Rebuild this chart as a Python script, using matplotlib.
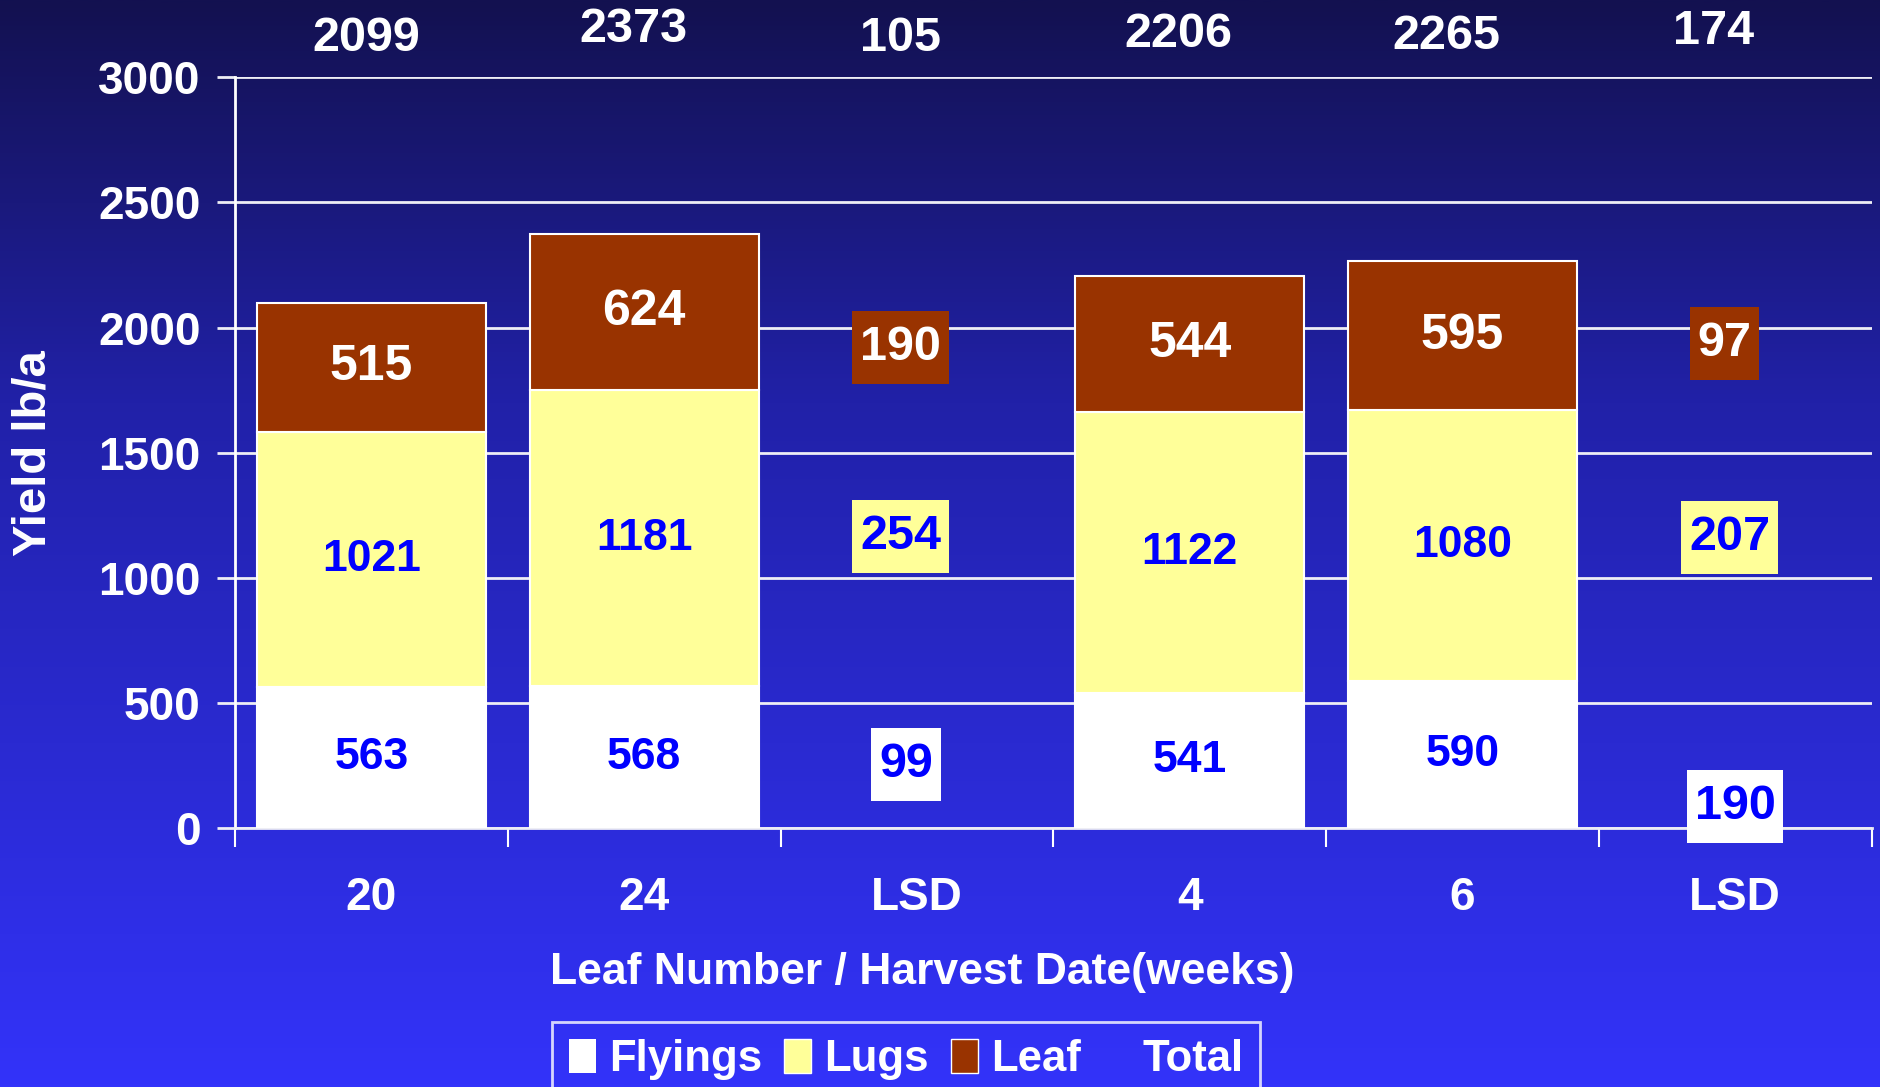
import numpy as np
import matplotlib
matplotlib.use("Agg")
import matplotlib.pyplot as plt
from matplotlib.patches import Patch
from matplotlib.path import Path
from matplotlib.colors import LinearSegmentedColormap

plt.rcParams['font.family'] = ['Liberation Sans', 'DejaVu Sans']
plt.rcParams['font.weight'] = 'bold'

# ---- data ----
categories = ['20', '24', 'LSD', '4', '6', 'LSD']
bar_idx = [0, 1, 3, 4]
flyings = [563, 568, 541, 590]
lugs = [1021, 1181, 1122, 1080]
leaf = [515, 624, 544, 595]
lsd_idx = [2, 5]
lsd_flyings = [99, 190]
lsd_lugs = [254, 207]
lsd_leaf = [190, 97]
totals = [2099, 2373, 105, 2206, 2265, 174]
yticks = [0, 500, 1000, 1500, 2000, 2500, 3000]

# ---- layout (label placement, not data) ----
lsd_label_y = {'flyings': [256, 86], 'lugs': [1167, 1160], 'leaf': [1919, 1936]}
lsd_label_dx = {'flyings': [-0.04, 0.0], 'lugs': [-0.06, -0.02], 'leaf': [-0.06, -0.04]}
total_y = [3153, 3191, 3153, 3172, 3162, 3181]
total_dx = [-0.02, -0.04, -0.06, -0.04, -0.06, -0.08]

WHITE = '#FFFFFF'
YELLOW = '#FFFF99'
BROWN = '#993300'
BLUE = '#0000FF'


def tallbox(x0, y0, width, height, mutation_size, padx=0.16, pady=0.29):
    px = padx * mutation_size
    py = pady * mutation_size
    xa, xb = x0 - px, x0 + width + px
    ya, yb = y0 - py, y0 + height + py
    return Path([(xa, ya), (xb, ya), (xb, yb), (xa, yb), (xa, ya)],
                [Path.MOVETO, Path.LINETO, Path.LINETO, Path.LINETO, Path.CLOSEPOLY])


fig = plt.figure(figsize=(18.81, 10.87), dpi=100)

# gradient background
bg = fig.add_axes([0, 0, 1, 1], zorder=-10)
cmap = LinearSegmentedColormap.from_list(
    'bg', [(0.0, (19/255, 17/255, 80/255)), (0.37, (33/255, 33/255, 168/255)),
           (1.0, (51/255, 51/255, 250/255))])
grad = np.linspace(0, 1, 512).reshape(-1, 1)
bg.imshow(grad, aspect='auto', cmap=cmap, extent=[0, 1, 1, 0])
bg.set_axis_off()

ax = fig.add_axes([0.125, 0.238, 0.870, 0.691])
ax.patch.set_alpha(0)
ax.set_ylim(0, 3000)
ax.set_xlim(-0.5, 5.5)

fs_blue = 32
fs_white = 36
fs_lsd = 35
width = 0.84
bottoms2 = [f for f in flyings]
bottoms3 = [f + l for f, l in zip(flyings, lugs)]
ax.bar(bar_idx, flyings, width=width, color=WHITE, edgecolor='white', linewidth=1.5, zorder=3)
ax.bar(bar_idx, lugs, width=width, bottom=bottoms2, color=YELLOW, edgecolor='white', linewidth=1.5, zorder=3)
ax.bar(bar_idx, leaf, width=width, bottom=bottoms3, color=BROWN, edgecolor='white', linewidth=1.5, zorder=3)

for i, x in enumerate(bar_idx):
    ax.text(x, flyings[i] / 2, str(flyings[i]), ha='center', va='center', color=BLUE, fontsize=fs_blue, fontweight='bold', zorder=5)
    ax.text(x, bottoms2[i] + lugs[i] / 2, str(lugs[i]), ha='center', va='center', color=BLUE, fontsize=fs_blue, fontweight='bold', zorder=5)
    ax.text(x, bottoms3[i] + leaf[i] / 2, str(leaf[i]), ha='center', va='center', color='white', fontsize=fs_white, fontweight='bold', zorder=5)

for j, x in enumerate(lsd_idx):
    ax.text(x + lsd_label_dx['flyings'][j], lsd_label_y['flyings'][j], str(lsd_flyings[j]), ha='center', va='center',
            color=BLUE, fontsize=fs_lsd, fontweight='bold', zorder=5, clip_on=False,
            bbox=dict(boxstyle=tallbox, fc=WHITE, ec='none'))
    ax.text(x + lsd_label_dx['lugs'][j], lsd_label_y['lugs'][j], str(lsd_lugs[j]), ha='center', va='center',
            color=BLUE, fontsize=fs_lsd, fontweight='bold', zorder=5, clip_on=False,
            bbox=dict(boxstyle=tallbox, fc=YELLOW, ec='none'))
    ax.text(x + lsd_label_dx['leaf'][j], lsd_label_y['leaf'][j], str(lsd_leaf[j]), ha='center', va='center',
            color='white', fontsize=fs_lsd, fontweight='bold', zorder=5, clip_on=False,
            bbox=dict(boxstyle=tallbox, fc=BROWN, ec='none'))

for k, t in enumerate(totals):
    ax.text(k + total_dx[k], total_y[k], str(t), ha='center', va='center', color='white',
            fontsize=35, fontweight='bold', clip_on=False)

# axes styling
ax.set_yticks(yticks)
ax.set_yticklabels([str(v) for v in yticks])
ax.yaxis.grid(True, color='#EEEEF5', linewidth=2, zorder=0)
ax.set_axisbelow(True)
ax.set_xticks(range(len(categories)))
ax.set_xticklabels(categories)
ax.set_xticks(np.arange(-0.5, 6.0, 1.0), minor=True)
ax.tick_params(axis='x', which='major', length=0, pad=34, labelsize=33, colors='white')
ax.tick_params(axis='x', which='minor', length=14, width=1.5, direction='out', color='white')
ax.tick_params(axis='y', length=13, width=2, color='#EEEEF5', labelsize=33, labelcolor='white', pad=12)
for lab in ax.get_xticklabels() + ax.get_yticklabels():
    lab.set_fontweight('bold')
for s in ['top', 'right']:
    ax.spines[s].set_visible(False)
ax.spines['left'].set_color('white')
ax.spines['left'].set_linewidth(2)
ax.spines['bottom'].set_color('#EEEEF5')
ax.spines['bottom'].set_linewidth(2)

ax.set_xlabel('Leaf Number / Harvest Date(weeks)', color='white', fontsize=32, fontweight='bold')
ax.xaxis.label.set_va('center')
ax.xaxis.set_label_coords(0.42, -0.192)
ax.set_ylabel('Yield lb/a', color='white', fontsize=34, fontweight='bold')
ax.yaxis.label.set_va('center')
ax.yaxis.set_label_coords(-0.123, 0.5)

handles = [Patch(facecolor=WHITE, edgecolor='none'),
           Patch(facecolor=YELLOW, edgecolor='white'),
           Patch(facecolor=BROWN, edgecolor='white'),
           Patch(facecolor='none', edgecolor='none')]
leg = fig.legend(handles, ['Flyings', 'Lugs', 'Leaf', 'Total'], loc='upper left',
                 bbox_to_anchor=(552 / 1881, 1 - 1022 / 1087), ncol=4, frameon=True,
                 fontsize=31.5, handlelength=0.62, handleheight=0.82, handletextpad=0.3,
                 columnspacing=0.5, borderpad=0.38, borderaxespad=0, fancybox=False)
leg.get_frame().set_facecolor('none')
leg.get_frame().set_edgecolor('white')
leg.get_frame().set_linewidth(2)
for t in leg.get_texts():
    t.set_color('white')
    t.set_fontweight('bold')

fig.savefig('out.png', dpi=100)
